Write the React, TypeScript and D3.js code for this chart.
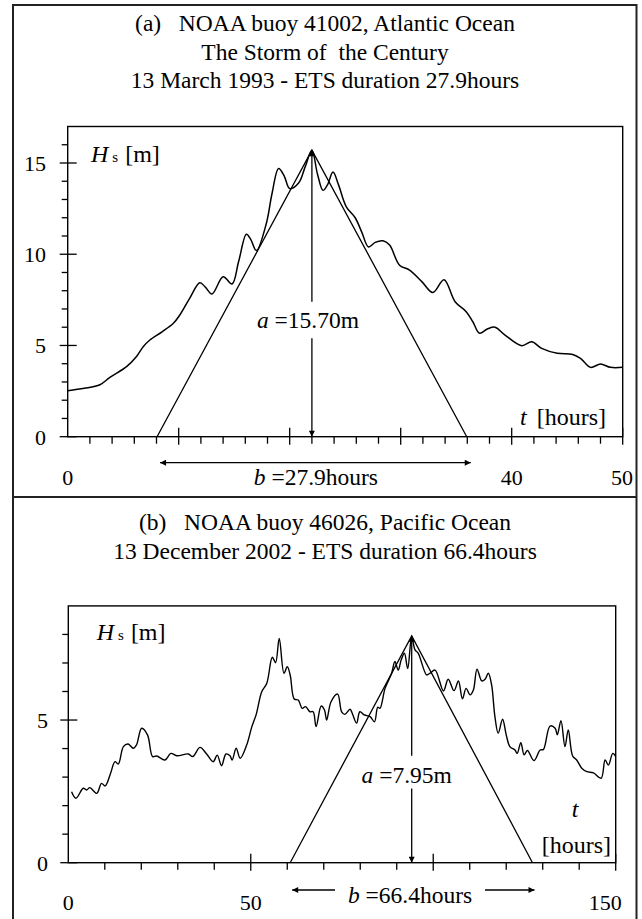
import React from 'react';
import * as d3 from 'd3';

const W = 642;
const H = 919;
const FONT = "'Liberation Serif','Times New Roman',serif";

// ---------- Panel (a): NOAA buoy 41002 ----------
const timeA = [0, 1.5, 2.9, 3.8, 5.3, 6.2, 6.8, 7.4, 8.5, 9.5, 10.1, 11.0, 11.9, 12.4, 13.0, 14.0, 14.8, 15.4, 16.1, 16.5, 17.0, 17.9, 18.4, 19.0, 19.5, 20.0, 20.8, 21.4, 22.0, 22.5, 23.0, 23.4, 23.9, 24.4, 25.1, 25.9, 26.5, 27.1, 27.7, 28.4, 29.0, 29.9, 30.8, 31.9, 32.9, 33.9, 34.9, 35.9, 36.5, 37.1, 37.8, 38.5, 39.4, 40.9, 41.8, 42.7, 44.1, 45.5, 46.2, 47.1, 48.0, 48.9, 50];
const hsA = [2.52, 2.65, 2.85, 3.25, 3.84, 4.4, 4.93, 5.3, 5.75, 6.2, 6.67, 7.6, 8.44, 8.2, 7.82, 8.77, 8.37, 9.6, 11.1, 10.8, 10.2, 11.7, 13.3, 14.7, 14.3, 13.6, 13.9, 14.8, 15.7, 14.4, 13.5, 13.8, 14.5, 13.8, 12.6, 12.0, 11.2, 10.4, 10.65, 10.74, 10.5, 9.4, 9.13, 8.5, 7.9, 8.6, 7.4, 6.85, 6.3, 5.67, 5.9, 6.0, 5.57, 4.99, 5.2, 4.84, 4.57, 4.51, 4.29, 3.8, 3.98, 3.8, 3.8];
const triTimeA = [8.05, 22.0, 35.95];
const triHsA = [0, 15.7, 0];
const yMajorA = [0, 5, 10, 15];
const xLabelsA = [0, 40, 50];
const titleA = ['(a)   NOAA buoy 41002, Atlantic Ocean', 'The Storm of  the Century', '13 March 1993 - ETS duration 27.9hours'];

// ---------- Panel (b): NOAA buoy 46026 ----------
const timeB = [0.9, 2.1, 4.1, 5.0, 5.9, 7.8, 9.1, 10.1, 11.5, 12.8, 13.7, 15.1, 16.4, 17.8, 18.7, 20.1, 21.7, 23.1, 24.2, 26.5, 28.1, 29.7, 32.9, 34.1, 36.1, 37.9, 39.7, 40.8, 42.0, 43.2, 44.3, 44.9, 46.0, 47.1, 48.9, 50.3, 51.5, 53.0, 54.4, 55.9, 56.8, 57.8, 59.1, 60.0, 60.8, 61.9, 63.0, 64.1, 65.0, 66.2, 67.1, 67.9, 69.3, 70.2, 70.8, 72.0, 73.8, 74.9, 75.8, 77.2, 77.8, 79.0, 79.9, 81.1, 82.7, 83.9, 84.8, 85.4, 86.8, 88.6, 89.5, 90.4, 91.2, 92.1, 93.0, 94.1, 95.0, 95.9, 98.2, 99.1, 100.5, 102.8, 104.1, 105.7, 106.9, 108.0, 109.0, 110.1, 111.0, 112.0, 113.3, 114.2, 115.1, 116.0, 116.9, 117.8, 119.0, 120.0, 121.0, 122.4, 123.0, 124.0, 124.9, 125.8, 127.6, 129.3, 130.2, 132.0, 133.4, 134.0, 135.0, 136.1, 137.0, 138.2, 139.3, 140.7, 142.1, 143.9, 146.0, 147.1, 148.0, 149.2, 150];
const hsB = [2.49, 2.26, 2.61, 2.55, 2.63, 2.43, 2.78, 2.69, 3.1, 3.54, 3.46, 4.07, 4.16, 4.01, 4.13, 4.71, 4.48, 3.72, 3.74, 3.6, 3.83, 3.75, 3.81, 3.72, 4.04, 3.81, 3.54, 3.77, 3.4, 3.81, 3.75, 3.6, 4.01, 3.66, 4.13, 4.77, 5.2, 5.99, 6.29, 7.2, 7.01, 7.86, 6.64, 6.87, 6.58, 5.74, 5.7, 5.41, 5.47, 5.29, 5.29, 4.77, 5.49, 5.35, 5.0, 5.64, 5.91, 5.29, 5.2, 5.38, 5.24, 4.89, 5.29, 5.18, 5.12, 4.94, 5.45, 5.41, 6.11, 6.64, 7.05, 6.75, 7.1, 7.34, 6.81, 7.92, 7.46, 7.34, 6.58, 6.64, 6.75, 6.02, 6.43, 6.03, 6.37, 5.74, 6.11, 5.88, 6.05, 6.78, 6.37, 6.43, 6.64, 6.23, 5.12, 4.54, 5.03, 4.48, 4.07, 3.95, 3.83, 4.21, 3.78, 3.93, 3.58, 3.95, 3.97, 4.79, 4.71, 4.48, 4.98, 4.07, 4.65, 3.74, 3.6, 3.31, 3.19, 3.15, 2.96, 3.6, 3.42, 3.83, 3.72];
const triTimeB = [60.8, 94.1, 127.2];
const triHsB = [0, 7.95, 0];
const yMajorB = [0, 5];
const xLabelsB = [0, 50, 150];
const titleB = ['(b)   NOAA buoy 46026, Pacific Ocean', '13 December 2002 - ETS duration 66.4hours'];

// ---------- Scales ----------
const xA = d3.scaleLinear().domain([0, 50]).range([67.7, 622.7]);
const yA = d3.scaleLinear().domain([0, 17]).range([436.7, 126.5]);
const xB = d3.scaleLinear().domain([0, 150]).range([68.3, 615.7]);
const yB = d3.scaleLinear().domain([0, 9]).range([862.7, 605.9]);

const lineGen = (xs: any, ys: any) =>
  d3.line<[number, number]>().x(d => xs(d[0])).y(d => ys(d[1])).curve(d3.curveCatmullRom.alpha(0.5));
const straight = (xs: any, ys: any) =>
  d3.line<[number, number]>().x(d => xs(d[0])).y(d => ys(d[1]));

const zip = (a: number[], b: number[]) => a.map((v, i) => [v, b[i]] as [number, number]);

function Ticks({ xs, ys, xMinor, xMajor, yMinor, yMajor }: any) {
  const x0 = xs.range()[0];
  const y0 = ys.range()[0];
  return (
    <g stroke="#000" strokeWidth={1.3}>
      {xMinor.map((t: number) => (
        <line key={'xm' + t} x1={xs(t)} x2={xs(t)} y1={y0} y2={y0 + 7} />
      ))}
      {xMajor.map((t: number) => (
        <line key={'xM' + t} x1={xs(t)} x2={xs(t)} y1={y0 - 9} y2={y0 + 8} />
      ))}
      {yMinor.map((v: number) => (
        <line key={'ym' + v} x1={x0 - 6} x2={x0} y1={ys(v)} y2={ys(v)} />
      ))}
      {yMajor.map((v: number) => (
        <line key={'yM' + v} x1={x0 - 8} x2={x0 + 9} y1={ys(v)} y2={ys(v)} />
      ))}
    </g>
  );
}

export default function App() {
  const xMinorA = d3.range(0, 51, 2).filter(t => t % 10 !== 0);
  const xMajorA = d3.range(10, 51, 10);
  const yMinorA = d3.range(1, 17).filter(v => v % 5 !== 0);
  const xMinorB = d3.range(10, 150, 10).filter(t => t % 50 !== 0);
  const xMajorB = [50, 100, 150];
  const yMinorB = d3.range(1, 9).filter(v => v % 5 !== 0);

  const [a0, aP, a1] = triTimeA;
  const [b0, bP, b1] = triTimeB;

  return (
    <svg width={W} height={H} style={{ position: 'absolute', left: 0, top: 0, background: '#fff' }} fontFamily={FONT}>
      <defs>
        <marker id="arr" viewBox="0 0 10 10" refX={10} refY={5} markerWidth={9} markerHeight={6} markerUnits="userSpaceOnUse" orient="auto-start-reverse">
          <path d="M0,0 L10,5 L0,10 z" fill="#000" />
        </marker>
      </defs>
      <rect x={0} y={0} width={W} height={H} fill="#fff" />

      {/* outer frame */}
      <g stroke="#222" strokeWidth={2} fill="none">
        <line x1={13} x2={13} y1={4} y2={919} />
        <line x1={636.5} x2={636.5} y1={4} y2={919} />
        <line x1={13} x2={636.5} y1={5} y2={5} />
        <line x1={13} x2={636.5} y1={497} y2={497} />
      </g>

      {/* ----- Panel A ----- */}
      {titleA.map((s, i) => (
        <text key={s} x={325} y={31 + i * 28.5} fontSize={23.5} textAnchor="middle" xmlSpace="preserve">{s}</text>
      ))}
      <rect x={xA(0)} y={yA(17)} width={xA(50) - xA(0)} height={yA(0) - yA(17)} fill="none" stroke="#000" strokeWidth={1.4} />
      <Ticks xs={xA} ys={yA} xMinor={xMinorA} xMajor={xMajorA} yMinor={yMinorA} yMajor={yMajorA} />
      {yMajorA.map(v => (
        <text key={v} x={46} y={yA(v) + 8} fontSize={22} textAnchor="end">{v}</text>
      ))}
      {xLabelsA.map(t => (
        <text key={t} x={t === 50 ? 633 : xA(t)} y={485} fontSize={22} textAnchor={t === 50 ? 'end' : 'middle'}>{t}</text>
      ))}
      <path d={straight(xA, yA)(zip(triTimeA, triHsA)) || ''} fill="none" stroke="#000" strokeWidth={1.3} />
      <path d={lineGen(xA, yA)(zip(timeA, hsA)) || ''} fill="none" stroke="#000" strokeWidth={1.5} />
      <line x1={xA(aP)} x2={xA(aP)} y1={yA(7.4)} y2={yA(triHsA[1])} stroke="#000" strokeWidth={1.3} markerEnd="url(#arr)" />
      <line x1={xA(aP)} x2={xA(aP)} y1={yA(5.4)} y2={yA(0)} stroke="#000" strokeWidth={1.3} markerEnd="url(#arr)" />
      <text x={xA(aP) - 4} y={328} fontSize={23.5} textAnchor="middle" xmlSpace="preserve">
        <tspan fontStyle="italic">a</tspan> =15.70m
      </text>
      <line x1={xA(a0) + 3} x2={xA(a1) + 4} y1={462.7} y2={462.7} stroke="#000" strokeWidth={1.3} markerStart="url(#arr)" markerEnd="url(#arr)" />
      <text x={(xA(a0) + xA(a1)) / 2 + 4} y={485} fontSize={23.5} textAnchor="middle" xmlSpace="preserve">
        <tspan fontStyle="italic">b</tspan> =27.9hours
      </text>
      <text x={91} y={161.7} fontSize={24}>
        <tspan fontStyle="italic">H</tspan>
        <tspan fontSize={15} dx={4}>s</tspan>
        <tspan dx={7}>[m]</tspan>
      </text>
      <text x={520} y={425} fontSize={24}>
        <tspan fontStyle="italic">t</tspan>
        <tspan dx={10}>[hours]</tspan>
      </text>

      {/* ----- Panel B ----- */}
      {titleB.map((s, i) => (
        <text key={s} x={325} y={530 + i * 29} fontSize={23.5} textAnchor="middle" xmlSpace="preserve">{s}</text>
      ))}
      <rect x={xB(0)} y={yB(9)} width={xB(150) - xB(0)} height={yB(0) - yB(9)} fill="none" stroke="#000" strokeWidth={1.4} />
      <Ticks xs={xB} ys={yB} xMinor={xMinorB} xMajor={xMajorB} yMinor={yMinorB} yMajor={yMajorB} />
      {yMajorB.map(v => (
        <text key={v} x={48} y={yB(v) + 8} fontSize={22} textAnchor="end">{v}</text>
      ))}
      {xLabelsB.map(t => (
        <text key={t} x={t === 150 ? xB(t) + 6 : xB(t)} y={910} fontSize={22} textAnchor={t === 150 ? 'end' : 'middle'}>{t}</text>
      ))}
      <path d={straight(xB, yB)(zip(triTimeB, triHsB)) || ''} fill="none" stroke="#000" strokeWidth={1.3} />
      <path d={lineGen(xB, yB)(zip(timeB, hsB)) || ''} fill="none" stroke="#000" strokeWidth={1.4} />
      <line x1={xB(bP)} x2={xB(bP)} y1={yB(3.75)} y2={yB(triHsB[1])} stroke="#000" strokeWidth={1.3} markerEnd="url(#arr)" />
      <line x1={xB(bP)} x2={xB(bP)} y1={yB(2.6)} y2={yB(0)} stroke="#000" strokeWidth={1.3} markerEnd="url(#arr)" />
      <text x={xB(bP) - 5} y={783} fontSize={23.5} textAnchor="middle" xmlSpace="preserve">
        <tspan fontStyle="italic">a</tspan> =7.95m
      </text>
      <line x1={xB(b0) + 2} x2={335} y1={890} y2={890} stroke="#000" strokeWidth={1.3} markerStart="url(#arr)" />
      <line x1={485} x2={xB(b1) + 2} y1={890} y2={890} stroke="#000" strokeWidth={1.3} markerEnd="url(#arr)" />
      <text x={410} y={903} fontSize={23.5} textAnchor="middle" xmlSpace="preserve">
        <tspan fontStyle="italic">b</tspan> =66.4hours
      </text>
      <text x={96.7} y={640} fontSize={24}>
        <tspan fontStyle="italic">H</tspan>
        <tspan fontSize={15} dx={4}>s</tspan>
        <tspan dx={7}>[m]</tspan>
      </text>
      <text x={575} y={817} fontSize={24} fontStyle="italic" textAnchor="middle">t</text>
      <text x={611} y={853} fontSize={24} textAnchor="end">[hours]</text>
    </svg>
  );
}
